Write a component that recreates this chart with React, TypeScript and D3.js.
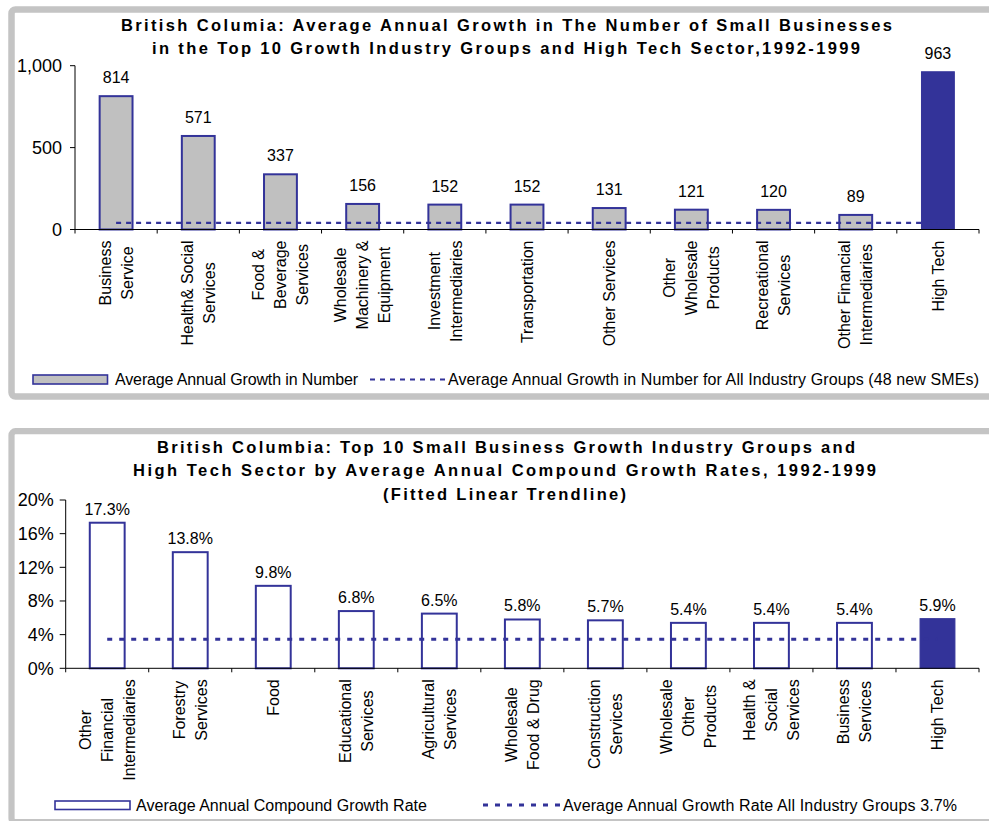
import React from "react";
import * as d3 from "d3";

// ---------- DATA ----------
const topCategories: string[][] = [
  ["Business", "Service"],
  ["Health& Social", "Services"],
  ["Food &", "Beverage", "Services"],
  ["Wholesale", "Machinery &", "Equipment"],
  ["Investment", "Intermediaries"],
  ["Transportation"],
  ["Other Services"],
  ["Other", "Wholesale", "Products"],
  ["Recreational", "Services"],
  ["Other Financial", "Intermediaries"],
  ["High Tech"],
];
const topValues: number[] = [814, 571, 337, 156, 152, 152, 131, 121, 120, 89, 963];
const topAllGroups = 41; // dashed line level as drawn
const topTicks: number[] = [0, 500, 1000];
const topTitle: string[] = [
  "British Columia: Average Annual Growth in The Number of Small Businesses",
  "in the Top 10 Growth Industry Groups and High Tech Sector,1992-1999",
];
const topLegend: string[] = [
  "Average Annual Growth in Number",
  "Average Annual Growth in Number for All Industry Groups (48 new SMEs)",
];

const botCategories: string[][] = [
  ["Other", "Financial", "Intermediaries"],
  ["Forestry", "Services"],
  ["Food"],
  ["Educational", "Services"],
  ["Agricultural", "Services"],
  ["Wholesale", "Food & Drug"],
  ["Construction", "Services"],
  ["Wholesale", "Other", "Products"],
  ["Health &", "Social", "Services"],
  ["Business", "Services"],
  ["High Tech"],
];
const botValues: number[] = [17.3, 13.8, 9.8, 6.8, 6.5, 5.8, 5.7, 5.4, 5.4, 5.4, 5.9];
const botAllGroups = 3.45; // dotted line level as drawn
const botTicks: number[] = [0, 4, 8, 12, 16, 20];
const botTitle: string[] = [
  "British Columbia: Top 10 Small Business Growth Industry Groups and",
  "High Tech Sector by Average Annual Compound Growth Rates, 1992-1999",
  "(Fitted Linear Trendline)",
];
const botLegend: string[] = [
  "Average Annual Compound Growth Rate",
  "Average Annual Growth Rate All Industry Groups 3.7%",
];

// ---------- STYLE ----------
const FONT = "'Liberation Sans', Arial, Helvetica, sans-serif";
const BLUE = "#333399";
const GRAY = "#c0c0c0";
const FRAME = "#c4c4c4";

let _ctx: CanvasRenderingContext2D | null = null;
function measure(text: string, size: number): number {
  if (!_ctx) {
    const c = document.createElement("canvas");
    _ctx = c.getContext("2d");
  }
  if (!_ctx) return text.length * size * 0.5;
  _ctx.font = `${size}px 'Liberation Sans', Arial, sans-serif`;
  return _ctx.measureText(text).width;
}

type ChartCfg = {
  cats: string[][];
  values: number[];
  avg: number;
  ticks: number[];
  tickFmt: (v: number) => string;
  xRange: [number, number];
  yRange: [number, number];
  yDomain: [number, number];
  barFrac: number;
  filled: boolean;
  labelFmt: (v: number) => string;
  labelGap: number;
  dash: string;
  dashWidth: number;
  tickLabelGap: number;
  yTickLen: number;
};

function BarChart({ cfg }: { cfg: ChartCfg }) {
  const keys = cfg.cats.map((_, i) => String(i));
  const x = d3.scaleBand<string>().domain(keys).range(cfg.xRange).paddingInner(0).paddingOuter(0);
  const y = d3.scaleLinear().domain(cfg.yDomain).range(cfg.yRange);
  const bw = x.bandwidth();
  const barW = bw * cfg.barFrac;
  const y0 = y(0);
  const n = keys.length;
  const labelFs = 16;
  const lineStep = 22;

  const avgLine = d3.line<number>()
    .x((d) => d)
    .y(() => y(cfg.avg));

  return (
    <g>
      {cfg.values.map((v, i) => {
        const last = i === n - 1;
        const bx = (x(String(i)) as number) + (bw - barW) / 2;
        return (
          <rect
            key={"b" + i}
            x={bx}
            y={y(v)}
            width={barW}
            height={y0 - y(v)}
            fill={last ? BLUE : cfg.filled ? GRAY : "#ffffff"}
            stroke={BLUE}
            strokeWidth={last ? 1 : 2}
          />
        );
      })}
      <path
        d={avgLine([
          (x("0") as number) + bw / 2,
          (x(String(n - 1)) as number) + bw / 2,
        ]) as string}
        fill="none"
        stroke={BLUE}
        strokeWidth={cfg.dashWidth}
        strokeDasharray={cfg.dash}
      />
      {cfg.values.map((v, i) => (
        <text
          key={"v" + i}
          x={(x(String(i)) as number) + bw / 2}
          y={y(v) - cfg.labelGap}
          textAnchor="middle"
          fontFamily={FONT}
          fontSize={16}
          fill="#000"
        >
          {cfg.labelFmt(v)}
        </text>
      ))}
      <line x1={cfg.xRange[0]} x2={cfg.xRange[0]} y1={y(cfg.yDomain[1])} y2={y0} stroke="#000" strokeWidth={1} />
      {cfg.ticks.map((t) => (
        <g key={"t" + t}>
          <line x1={cfg.xRange[0] - cfg.yTickLen} x2={cfg.xRange[0]} y1={y(t)} y2={y(t)} stroke="#000" strokeWidth={1} />
          <text
            x={cfg.xRange[0] - cfg.yTickLen - cfg.tickLabelGap}
            y={y(t) + 6.3}
            textAnchor="end"
            fontFamily={FONT}
            fontSize={18}
            fill="#000"
          >
            {cfg.tickFmt(t)}
          </text>
        </g>
      ))}
      <line x1={cfg.xRange[0]} x2={cfg.xRange[1]} y1={y0} y2={y0} stroke="#000" strokeWidth={1} />
      {d3.range(n + 1).map((i) => {
        const tx = cfg.xRange[0] + i * bw;
        return <line key={"xt" + i} x1={tx} x2={tx} y1={y0} y2={y0 + 4} stroke="#000" strokeWidth={1} />;
      })}
      {cfg.cats.map((lines, i) => {
        const cx = (x(String(i)) as number) + bw / 2;
        const maxW = Math.max(...lines.map((l) => measure(l, labelFs)));
        const cy = y0 + 11 + maxW / 2;
        return (
          <g key={"c" + i}>
            {lines.map((l, j) => {
              const lx = cx + (j - (lines.length - 1) / 2) * lineStep + 0.36 * labelFs;
              return (
                <text
                  key={j}
                  transform={`translate(${lx},${cy}) rotate(-90)`}
                  textAnchor="middle"
                  fontFamily={FONT}
                  fontSize={labelFs}
                  fill="#000"
                >
                  {l}
                </text>
              );
            })}
          </g>
        );
      })}
    </g>
  );
}

function Title({ lines, starts, lengths, baselines }: { lines: string[]; starts: number[]; lengths: number[]; baselines: number[] }) {
  return (
    <g>
      {lines.map((l, i) => (
        <text
          key={i}
          x={starts[i]}
          y={baselines[i]}
          textLength={lengths[i]}
          lengthAdjust="spacing"
          fontFamily={FONT}
          fontWeight="bold"
          fontSize={16.5}
          fill="#000"
        >
          {l}
        </text>
      ))}
    </g>
  );
}

function LegendText({ x, y, len, children }: { x: number; y: number; len: number; children: string }) {
  return (
    <text x={x} y={y} textLength={len} lengthAdjust="spacing" fontFamily={FONT} fontSize={16} fill="#000">
      {children}
    </text>
  );
}

export default function App() {
  const topCfg: ChartCfg = {
    cats: topCategories,
    values: topValues,
    avg: topAllGroups,
    ticks: topTicks,
    tickFmt: d3.format(","),
    xRange: [75, 979],
    yRange: [229.5, 65.7],
    yDomain: [0, 1000],
    barFrac: 0.4,
    filled: true,
    labelFmt: (v) => String(v),
    labelGap: 13,
    dash: "5,5",
    dashWidth: 2.3,
    tickLabelGap: 8,
    yTickLen: 5,
  };
  const botCfg: ChartCfg = {
    cats: botCategories,
    values: botValues,
    avg: botAllGroups,
    ticks: botTicks,
    tickFmt: (v) => `${v}%`,
    xRange: [65.7, 979],
    yRange: [668.3, 500],
    yDomain: [0, 20],
    barFrac: 0.42,
    filled: false,
    labelFmt: (v) => `${v.toFixed(1)}%`,
    labelGap: 8,
    dash: "5,7",
    dashWidth: 3,
    tickLabelGap: 6,
    yTickLen: 6,
  };

  return (
    <svg
      width={989}
      height={821}
      style={{ position: "absolute", left: 0, top: 0, background: "#fff" }}
    >
      <rect x={0} y={0} width={989} height={821} fill="#fff" />
      <rect x={11.5} y={9.5} width={990} height={387} rx={4} fill="#fff" stroke={FRAME} strokeWidth={6.5} />
      <rect x={11.5} y={431.2} width={990} height={391} rx={4} fill="#fff" stroke={FRAME} strokeWidth={6.2} />

      <Title lines={topTitle} starts={[121, 152]} lengths={[771, 708]} baselines={[30.5, 53.5]} />
      <BarChart cfg={topCfg} />
      <rect x={33} y={375} width={74.5} height={9} fill={GRAY} stroke={BLUE} strokeWidth={1.6} />
      <LegendText x={115} y={384.5} len={243}>{topLegend[0]}</LegendText>
      <line x1={370} x2={447} y1={379.5} y2={379.5} stroke={BLUE} strokeWidth={2} strokeDasharray="5,5" />
      <LegendText x={448} y={384.5} len={531}>{topLegend[1]}</LegendText>

      <Title lines={botTitle} starts={[157, 133, 383]} lengths={[698, 743, 243]} baselines={[452.5, 476, 500]} />
      <BarChart cfg={botCfg} />
      <rect x={55} y={801} width={75} height={8.5} fill="#fff" stroke={BLUE} strokeWidth={1.6} />
      <LegendText x={136} y={810.5} len={291}>{botLegend[0]}</LegendText>
      <line x1={483} x2={560} y1={805} y2={805} stroke={BLUE} strokeWidth={3} strokeDasharray="5,7" />
      <LegendText x={563} y={810.5} len={394}>{botLegend[1]}</LegendText>
    </svg>
  );
}
